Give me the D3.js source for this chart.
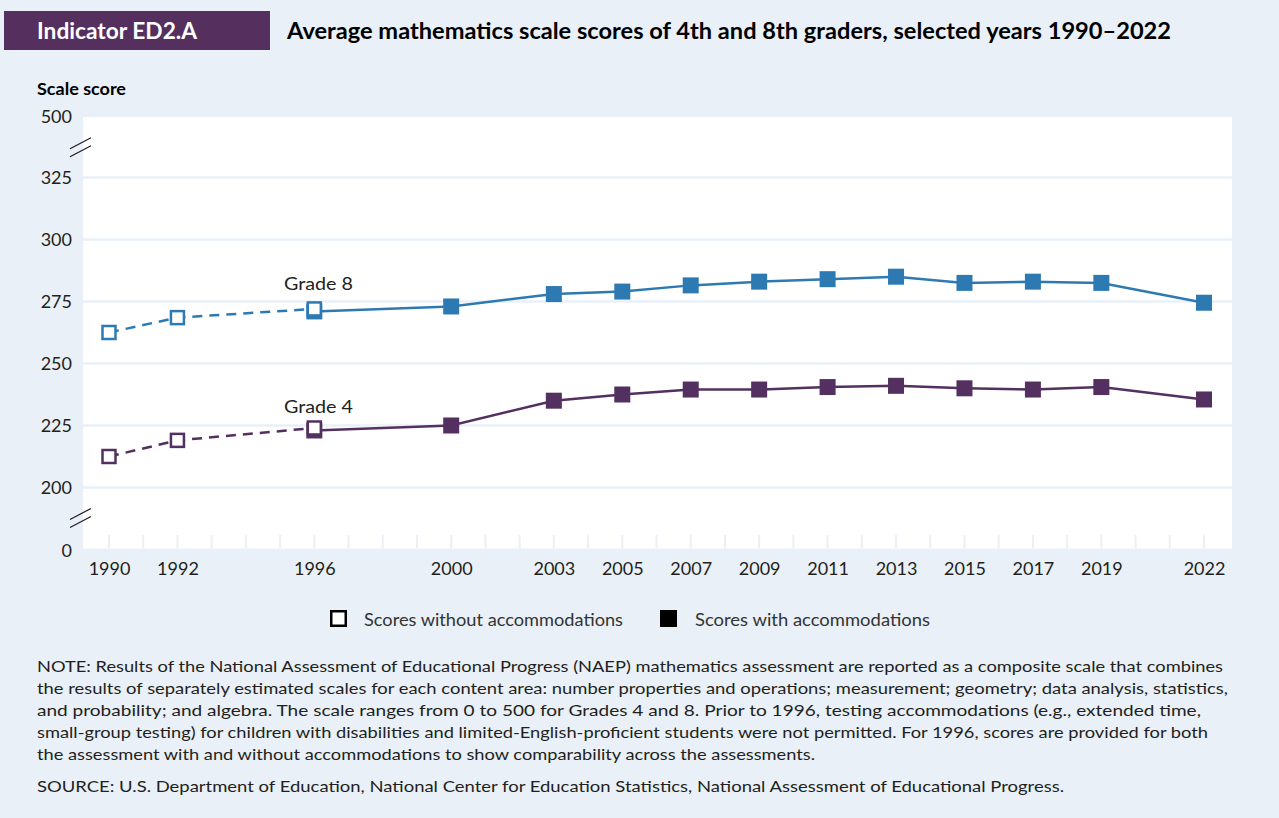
<!DOCTYPE html>
<html><head><meta charset="utf-8">
<script src="https://cdn.jsdelivr.net/npm/d3@7"></script>
<style>
html,body{margin:0;padding:0;background:#e9f0f7;}
svg{display:block;font-family:Lato,"Open Sans",sans-serif;}
</style></head>
<body>
<svg id="chart" width="1279" height="818"></svg>
<script>
// ---- data ----
const yearsNoAcc = [1990, 1992, 1996];
const grade8NoAcc = [262.5, 268.5, 272];
const grade4NoAcc = [212.5, 219, 224];
const yearsAcc = [1996, 2000, 2003, 2005, 2007, 2009, 2011, 2013, 2015, 2017, 2019, 2022];
const grade8Acc = [271, 273, 278, 279, 281.5, 283, 284, 285, 282.5, 283, 282.5, 274.5];
const grade4Acc = [223, 225, 235, 237.5, 239.5, 239.5, 240.5, 241, 240, 239.5, 240.5, 235.5];
const xTickYears = [1990, 1992, 1996, 2000, 2003, 2005, 2007, 2009, 2011, 2013, 2015, 2017, 2019, 2022];
const yTickValues = [0, 200, 225, 250, 275, 300, 325, 500];
const gridValues = [200, 225, 250, 275, 300, 325];
const legendLabels = ["Scores without accommodations", "Scores with accommodations"];
const noteLines = [
  "NOTE: Results of the National Assessment of Educational Progress (NAEP) mathematics assessment are reported as a composite scale that combines",
  "the results of separately estimated scales for each content area: number properties and operations; measurement; geometry; data analysis, statistics,",
  "and probability; and algebra. The scale ranges from 0 to 500 for Grades 4 and 8. Prior to 1996, testing accommodations (e.g., extended time,",
  "small-group testing) for children with disabilities and limited-English-proficient students were not permitted. For 1996, scores are provided for both",
  "the assessment with and without accommodations to show comparability across the assessments."
];
const sourceLine = "SOURCE: U.S. Department of Education, National Center for Education Statistics, National Assessment of Educational Progress.";

// ---- styles ----
const BG = "#e9f0f7", BLUE = "#2d7ab3", PURPLE = "#53305f", TXT = "#231f20";
const svg = d3.select("#chart");

// header
svg.append("rect").attr("x", 4).attr("y", 11).attr("width", 266).attr("height", 39).attr("fill", "#55305f");
svg.append("text").attr("x", 37).attr("y", 38.5).attr("fill", "#fff").attr("font-weight", 700)
  .attr("font-size", 22).attr("textLength", 160).attr("lengthAdjust", "spacingAndGlyphs").text("Indicator ED2.A");
svg.append("text").attr("x", 287).attr("y", 38.5).attr("fill", "#000").attr("font-weight", 700)
  .attr("font-size", 22).attr("textLength", 884).attr("lengthAdjust", "spacingAndGlyphs")
  .text("Average mathematics scale scores of 4th and 8th graders, selected years 1990\u20132022");

svg.append("text").attr("x", 37).attr("y", 95).attr("fill", "#000").attr("font-weight", 700)
  .attr("font-size", 17).attr("textLength", 89).attr("lengthAdjust", "spacingAndGlyphs").text("Scale score");

// scales
const plot = {left: 83, right: 1232, top: 117, bottom: 548.5};
const x = d3.scaleLinear().domain([1990, 2022]).range([109, 1204]);
const y = d3.scaleLinear().domain([0, 200, 325, 500]).range([548.5, 487.5, 177.5, 117]);

svg.append("rect").attr("x", plot.left).attr("y", plot.top)
  .attr("width", plot.right - plot.left).attr("height", plot.bottom - plot.top).attr("fill", "#fff");

// gridlines
svg.append("g").selectAll("line").data(gridValues).join("line")
  .attr("x1", plot.left).attr("x2", plot.right)
  .attr("y1", d => y(d)).attr("y2", d => y(d))
  .attr("stroke", BG).attr("stroke-width", 2.5);

// small year ticks at bottom
svg.append("g").selectAll("line").data(d3.range(1990, 2023)).join("line")
  .attr("x1", d => x(d)).attr("x2", d => x(d))
  .attr("y1", 535).attr("y2", plot.bottom)
  .attr("stroke", BG).attr("stroke-width", 2);

// y axis labels
const yAxis = d3.axisLeft(y).tickValues(yTickValues).tickSize(0).tickPadding(0).tickFormat(d3.format("d"));
const gy = svg.append("g").attr("transform", "translate(72,0)").call(yAxis);
gy.select(".domain").remove();
gy.selectAll("text").attr("font-size", 18).attr("fill", TXT).attr("font-family", "Lato, sans-serif");
gy.selectAll(".tick").filter(d => d === 0).select("text").attr("dy", "0.45em");

// x axis labels
const xAxis = d3.axisBottom(x).tickValues(xTickYears).tickSize(0).tickPadding(0).tickFormat(d3.format("d"));
const gx = svg.append("g").attr("transform", "translate(0,575)").call(xAxis);
gx.select(".domain").remove();
gx.selectAll("text").attr("font-size", 18).attr("fill", TXT).attr("dy", 0).attr("font-family", "Lato, sans-serif");

// axis break marks
function breakMark(cy) {
  [-4, 4].forEach(off => {
    svg.append("line").attr("x1", 70).attr("x2", 91)
      .attr("y1", cy + off + 5.5).attr("y2", cy + off - 5.5)
      .attr("stroke", TXT).attr("stroke-width", 1.3);
  });
}
breakMark((y(500) + y(325)) / 2);
breakMark((y(200) + y(0)) / 2);

// series
const line = d3.line().x(d => x(d[0])).y(d => y(d[1]));
function drawSeries(color, accVals, noAccVals) {
  const acc = yearsAcc.map((yr, i) => [yr, accVals[i]]);
  const noAcc = yearsNoAcc.map((yr, i) => [yr, noAccVals[i]]);
  svg.append("path").datum(acc).attr("d", line).attr("fill", "none")
    .attr("stroke", color).attr("stroke-width", 2.5);
  svg.append("g").selectAll("rect").data(acc).join("rect")
    .attr("x", d => x(d[0]) - 8).attr("y", d => y(d[1]) - 8)
    .attr("width", 16).attr("height", 16).attr("fill", color);
  svg.append("path").datum(noAcc).attr("d", line).attr("fill", "none")
    .attr("stroke", color).attr("stroke-width", 2.5).attr("stroke-dasharray", "10,7");
  svg.append("g").selectAll("rect").data(noAcc).join("rect")
    .attr("x", d => x(d[0]) - 6.5).attr("y", d => y(d[1]) - 6.5)
    .attr("width", 13).attr("height", 13).attr("fill", "#fff")
    .attr("stroke", color).attr("stroke-width", 2.5);
}
drawSeries(BLUE, grade8Acc, grade8NoAcc);
drawSeries(PURPLE, grade4Acc, grade4NoAcc);

svg.append("text").attr("x", 284).attr("y", 290).attr("font-size", 18).attr("fill", TXT)
  .attr("textLength", 69).attr("lengthAdjust", "spacingAndGlyphs").text("Grade 8");
svg.append("text").attr("x", 284).attr("y", 413).attr("font-size", 18).attr("fill", TXT)
  .attr("textLength", 69).attr("lengthAdjust", "spacingAndGlyphs").text("Grade 4");

// legend
svg.append("rect").attr("x", 331.25).attr("y", 611.25).attr("width", 14.5).attr("height", 14.5)
  .attr("fill", "#fff").attr("stroke", "#000").attr("stroke-width", 2.5);
svg.append("text").attr("x", 364).attr("y", 625.5).attr("font-size", 18).attr("fill", "#333")
  .attr("textLength", 259).attr("lengthAdjust", "spacingAndGlyphs").text(legendLabels[0]);
svg.append("rect").attr("x", 660).attr("y", 610).attr("width", 17).attr("height", 17).attr("fill", "#000");
svg.append("text").attr("x", 695).attr("y", 625.5).attr("font-size", 18).attr("fill", "#333")
  .attr("textLength", 235).attr("lengthAdjust", "spacingAndGlyphs").text(legendLabels[1]);

// notes
const noteWidths = [1186, 1191, 1164, 1171, 778];
svg.append("g").selectAll("text").data(noteLines).join("text")
  .attr("x", 37).attr("y", (d, i) => 672 + i * 22)
  .attr("font-size", 16).attr("fill", TXT)
  .attr("textLength", (d, i) => noteWidths[i]).attr("lengthAdjust", "spacingAndGlyphs")
  .text(d => d);
svg.append("text").attr("x", 37).attr("y", 792).attr("font-size", 16).attr("fill", TXT)
  .attr("textLength", 1027).attr("lengthAdjust", "spacingAndGlyphs").text(sourceLine);
</script>
</body></html>
